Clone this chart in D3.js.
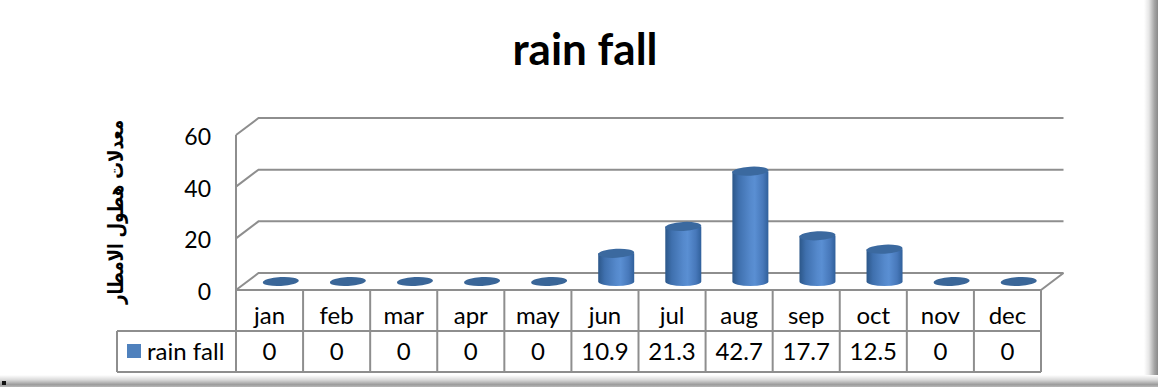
<!DOCTYPE html>
<html>
<head>
<meta charset="utf-8">
<script src="https://cdn.jsdelivr.net/npm/d3@7/dist/d3.min.js"></script>
<style>
  html, body { margin: 0; padding: 0; background: #ffffff; }
  svg { display: block; }
</style>
</head>
<body>
<svg id="chart" width="1158" height="387"></svg>
<script>
// Monthly rainfall data
const months = ["jan", "feb", "mar", "apr", "may", "jun", "jul", "aug", "sep", "oct", "nov", "dec"];
const rainfall = [0, 0, 0, 0, 0, 10.9, 21.3, 42.7, 17.7, 12.5, 0, 0];
const yTicks = [0, 20, 40, 60];
const seriesName = "rain fall";
const chartTitle = "rain fall";
const yAxisTitle = "معدلات هطول الامطار";

const W = 1158, H = 387;
const svg = d3.select("#chart");
const font = "Lato, 'Open Sans', sans-serif";

// Layout of the 3D plot box
const frontLeft = 236, frontRight = 1041;
const floorY = 290, topY = 135;
const depthX = 22.5, depthY = -17;
const rowH = 41, legendLeft = 117;

const x = d3.scaleBand().domain(months).range([frontLeft, frontRight]).padding(0);
const y = d3.scaleLinear().domain([0, 60]).range([floorY, topY]);

const defs = svg.append("defs");

// Cylinder body shading
const bodyGrad = defs.append("linearGradient").attr("id", "cylBody")
  .attr("x1", "0%").attr("x2", "100%").attr("y1", "0%").attr("y2", "0%");
[["0%", "#2c5789"], ["18%", "#3f70ae"], ["50%", "#5589cc"], ["62%", "#5a8fd3"], ["85%", "#4778ba"], ["100%", "#30609b"]]
  .forEach(([o, c]) => bodyGrad.append("stop").attr("offset", o).attr("stop-color", c));

// Chart-area shadow on the right and bottom edges
const rShadow = defs.append("linearGradient").attr("id", "rShadow")
  .attr("x1", "0%").attr("x2", "100%").attr("y1", "0%").attr("y2", "0%");
[["0%", "#ffffff"], ["35%", "#e6e6e6"], ["75%", "#a5a5a5"], ["100%", "#8a8a8a"]]
  .forEach(([o, c]) => rShadow.append("stop").attr("offset", o).attr("stop-color", c));
const bShadow = defs.append("linearGradient").attr("id", "bShadow")
  .attr("x1", "0%").attr("x2", "0%").attr("y1", "0%").attr("y2", "100%");
[["0%", "#ffffff"], ["40%", "#dadada"], ["80%", "#9c9c9c"], ["100%", "#b8b8b8"]]
  .forEach(([o, c]) => bShadow.append("stop").attr("offset", o).attr("stop-color", c));

svg.append("rect").attr("x", 1144).attr("y", 0).attr("width", 14).attr("height", H).attr("fill", "url(#rShadow)");
svg.append("rect").attr("x", 0).attr("y", 375).attr("width", 1158).attr("height", 12).attr("fill", "url(#bShadow)");
svg.append("rect").attr("x", 2).attr("y", 381).attr("width", 4).attr("height", 4).attr("fill", "#111");

// Title
svg.append("text")
  .attr("x", 585).attr("y", 65)
  .attr("text-anchor", "middle")
  .attr("font-family", font).attr("font-weight", "bold").attr("font-size", 44)
  .attr("fill", "#000")
  .text(chartTitle);

const gridColor = "#8e8e8e";
const grid = svg.append("g").attr("fill", "none").attr("stroke", gridColor).attr("stroke-width", 2);

// Back-wall gridlines with their diagonal leg on the side wall
yTicks.forEach(t => {
  const yf = y(t);
  grid.append("polyline")
    .attr("points", [[frontLeft, yf], [frontLeft + depthX, yf + depthY], [frontRight + depthX, yf + depthY]].map(p => p.join(",")).join(" "));
});
// Floor front edge and right diagonal
grid.append("polyline")
  .attr("points", [[frontLeft, floorY], [frontRight, floorY], [frontRight + depthX, floorY + depthY]].map(p => p.join(",")).join(" "));
// Vertical axis
grid.append("line").attr("x1", frontLeft).attr("x2", frontLeft).attr("y1", y(60)).attr("y2", floorY + 2 * rowH);

// Y tick labels
svg.append("g").selectAll("text").data(yTicks).join("text")
  .attr("x", 211).attr("y", d => y(d) + 10)
  .attr("text-anchor", "end")
  .attr("font-family", font).attr("font-size", 23).attr("fill", "#000")
  .text(d => d);

// Y axis title (Arabic), rotated
const yTitle = svg.append("text")
  .attr("transform", "translate(123,212) rotate(-90) scale(1,1.25)")
  .attr("text-anchor", "middle")
  .attr("font-family", "'DejaVu Sans', sans-serif").attr("font-weight", "bold").attr("font-size", 18)
  .attr("fill", "#000")
  .text(yAxisTitle);
const tl = yTitle.node().getComputedTextLength();
if (tl > 0) yTitle.attr("font-size", 18 * 184 / tl);

// Cylinders, placed at mid-depth of the plot box
const rx = 18, ry = 4.5;
const bars = svg.append("g");
months.forEach((m, i) => {
  const v = rainfall[i];
  const cx = x(m) + x.bandwidth() / 2 + depthX / 2;
  const yb = y(0) + depthY / 2;
  const yt = y(v) + depthY / 2;
  if (v > 0) {
    bars.append("path")
      .attr("d", `M${cx - rx},${yt} L${cx - rx},${yb} A${rx},${ry} 0 0 0 ${cx + rx},${yb} L${cx + rx},${yt} Z`)
      .attr("fill", "url(#cylBody)");
  }
  bars.append("ellipse")
    .attr("cx", cx).attr("cy", yt).attr("rx", rx).attr("ry", ry)
    .attr("transform", `rotate(-3 ${cx} ${yt})`)
    .attr("fill", v > 0 ? "#3b699f" : "#3a6698");
});

// Data table below the plot
const tbl = svg.append("g").attr("fill", "none").attr("stroke", gridColor).attr("stroke-width", 2);
tbl.append("line").attr("x1", legendLeft).attr("x2", frontRight).attr("y1", floorY + rowH).attr("y2", floorY + rowH);
tbl.append("line").attr("x1", legendLeft).attr("x2", frontRight).attr("y1", floorY + 2 * rowH).attr("y2", floorY + 2 * rowH);
tbl.append("line").attr("x1", legendLeft).attr("x2", legendLeft).attr("y1", floorY + rowH).attr("y2", floorY + 2 * rowH);
months.forEach(m => {
  tbl.append("line").attr("x1", x(m) + x.bandwidth()).attr("x2", x(m) + x.bandwidth())
    .attr("y1", floorY).attr("y2", floorY + 2 * rowH);
});

svg.append("g").selectAll("text").data(months).join("text")
  .attr("x", d => x(d) + x.bandwidth() / 2).attr("y", floorY + 34)
  .attr("text-anchor", "middle")
  .attr("font-family", font).attr("font-size", 24).attr("fill", "#000")
  .text(d => d);

svg.append("g").selectAll("text").data(rainfall).join("text")
  .attr("x", (d, i) => x(months[i]) + x.bandwidth() / 2).attr("y", floorY + rowH + 29)
  .attr("text-anchor", "middle")
  .attr("font-family", font).attr("font-size", 24).attr("fill", "#000")
  .text(d => d);

// Legend key in the table's first cell
svg.append("rect").attr("x", 127).attr("y", 344).attr("width", 14).attr("height", 14).attr("fill", "#4f81bd");
svg.append("text").attr("x", 147).attr("y", floorY + rowH + 29)
  .attr("font-family", font).attr("font-size", 24).attr("fill", "#000")
  .text(seriesName);
</script>
</body>
</html>
